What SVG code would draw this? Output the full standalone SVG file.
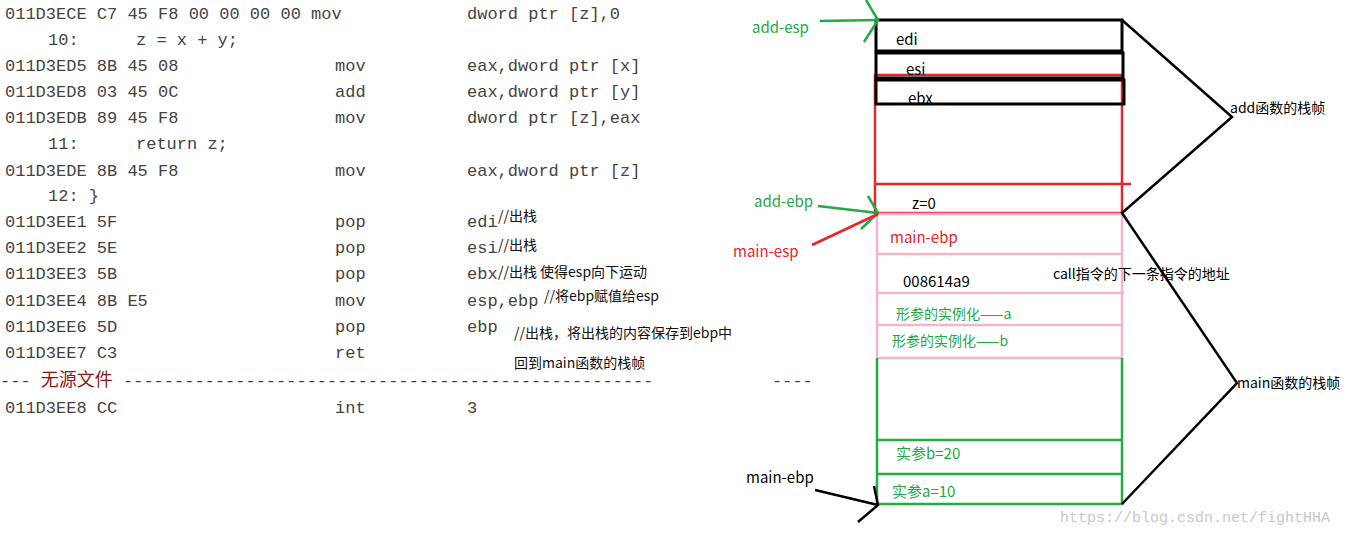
<svg xmlns="http://www.w3.org/2000/svg" width="1371" height="536" viewBox="0 0 1371 536">
<style>
.c{font-family:"Liberation Mono",monospace;font-size:17px;fill:#444}
.s{font-family:"Noto Sans CJK SC","Noto Sans",sans-serif;font-size:14px;fill:#111}
.g{fill:#22aa44}.r{fill:#e8242c}
.k{fill:none;stroke:#000;stroke-width:3}
</style>
<rect width="1371" height="536" fill="#fff"/>
<g id="code">
<text class="c" y="19"><tspan x="5">011D3ECE C7 45 F8 00 00 00 00 mov</tspan><tspan x="467">dword ptr [z],0</tspan></text>
<text class="c" y="45"><tspan x="48">10:</tspan><tspan x="136">z = x + y;</tspan></text>
<text class="c" y="71"><tspan x="5">011D3ED5 8B 45 08</tspan><tspan x="335">mov</tspan><tspan x="467">eax,dword ptr [x]</tspan></text>
<text class="c" y="97"><tspan x="5">011D3ED8 03 45 0C</tspan><tspan x="335">add</tspan><tspan x="467">eax,dword ptr [y]</tspan></text>
<text class="c" y="123"><tspan x="5">011D3EDB 89 45 F8</tspan><tspan x="335">mov</tspan><tspan x="467">dword ptr [z],eax</tspan></text>
<text class="c" y="149"><tspan x="48">11:</tspan><tspan x="136">return z;</tspan></text>
<text class="c" y="176"><tspan x="5">011D3EDE 8B 45 F8</tspan><tspan x="335">mov</tspan><tspan x="467">eax,dword ptr [z]</tspan></text>
<text class="c" y="201"><tspan x="48">12: }</tspan></text>
<text class="c" y="227"><tspan x="5">011D3EE1 5F</tspan><tspan x="335">pop</tspan><tspan x="467">edi</tspan></text>
<text class="c" y="253"><tspan x="5">011D3EE2 5E</tspan><tspan x="335">pop</tspan><tspan x="467">esi</tspan></text>
<text class="c" y="279"><tspan x="5">011D3EE3 5B</tspan><tspan x="335">pop</tspan><tspan x="467">ebx</tspan></text>
<text class="c" y="306"><tspan x="5">011D3EE4 8B E5</tspan><tspan x="335">mov</tspan><tspan x="467">esp,ebp</tspan></text>
<text class="c" y="332"><tspan x="5">011D3EE6 5D</tspan><tspan x="335">pop</tspan><tspan x="467">ebp</tspan></text>
<text class="c" y="358"><tspan x="5">011D3EE7 C3</tspan><tspan x="335">ret</tspan></text>
<text class="c" y="386" style="fill:#8b1a1a">--- <tspan style="font-family:'Noto Sans CJK SC',sans-serif;font-size:18px">无源文件</tspan> ----------------------------------------------------</text>
<text class="c" y="386" x="772" style="fill:#8b1a1a">----</text>
<text class="c" y="413"><tspan x="5">011D3EE8 CC</tspan><tspan x="335">int</tspan><tspan x="467">3</tspan></text>
<rect x="0" y="424" width="700" height="12" fill="#fff"/>
<text class="s" x="498" y="221">//出栈</text>
<text class="s" x="498" y="250">//出栈</text>
<text class="s" x="498" y="277">//出栈  使得esp向下运动</text>
<text class="s" x="544" y="301">//将ebp赋值给esp</text>
<text class="s" x="514" y="338">//出栈，将出栈的内容保存到ebp中</text>
<text class="s" x="514" y="368">回到main函数的栈帧</text>
</g>
<g id="stack">
<rect x="875" y="75" width="247" height="138" fill="none" stroke="#e8242c" stroke-width="2.5"/>
<line x1="875" y1="184" x2="1131" y2="184" stroke="#e8242c" stroke-width="2.5"/>
<rect x="876" y="53" width="247" height="25" class="k"/>
<rect x="876" y="80" width="248" height="24" class="k"/>
<rect x="876" y="20" width="246" height="31" class="k"/>
<g fill="none" stroke="#f7b3c8" stroke-width="2.5">
<rect x="877" y="214" width="245" height="144"/>
<line x1="877" y1="254" x2="1122" y2="254"/><line x1="877" y1="293" x2="1124" y2="293"/><line x1="877" y1="325" x2="1122" y2="325"/>
</g>
<g fill="none" stroke="#22aa44" stroke-width="2.5">
<polyline points="877,358 877,504 1122,504 1122,358"/>
<line x1="877" y1="440" x2="1122" y2="440"/><line x1="877" y1="474" x2="1122" y2="474"/>
</g>
<g font-family="'Noto Sans CJK SC','Noto Sans',sans-serif" font-size="15">
<text x="896" y="45">edi</text>
<text x="906" y="75">esi</text>
<text x="908" y="104">ebx</text>
<text x="912" y="209">z=0</text>
<text x="890" y="243" class="r">main-ebp</text>
<text x="903" y="287">008614a9</text>
<text x="896" y="319" class="g" font-size="14">形参的实例化——a</text>
<text x="892" y="346" class="g" font-size="14">形参的实例化——b</text>
<text x="896" y="459" class="g">实参b=20</text>
<text x="892" y="497" class="g">实参a=10</text>
<text x="1053" y="279" font-size="14">call指令的下一条指令的地址</text>
<text x="1230" y="113" font-size="14">add函数的栈帧</text>
<text x="1237" y="388" font-size="14">main函数的栈帧</text>
<text x="752" y="33" class="g">add-esp</text>
<text x="754" y="207" class="g">add-ebp</text>
<text x="733" y="257" class="r">main-esp</text>
<text x="746" y="483">main-ebp</text>
</g>
</g>
<g id="connectors" fill="none" stroke-width="2.5">
<polyline points="1122,20 1232,117 1122,213 1237,383 1122,504" stroke="#000"/>
<g stroke="#22aa44">
<line x1="820" y1="21" x2="878" y2="20"/><polyline points="866,0 878,20 864,42"/>
<line x1="818" y1="206" x2="878" y2="213"/><polyline points="868,196 878,213 861,229"/>
</g>
<line x1="812" y1="245" x2="878" y2="214" stroke="#e8242c"/>
<g stroke="#000"><line x1="815" y1="490" x2="878" y2="505"/><polyline points="874,486 878,505 858,522"/></g>
</g>
<text x="1060" y="522" font-family="'Liberation Mono',monospace" font-size="15" fill="#c8c8c8">https://blog.csdn.net/fightHHA</text>
</svg>
